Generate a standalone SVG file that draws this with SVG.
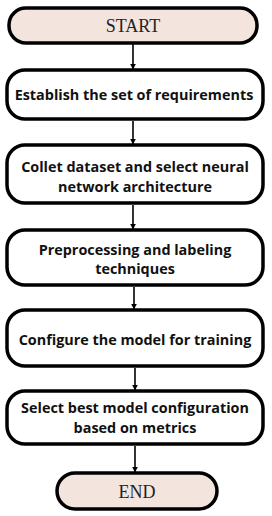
<svg xmlns="http://www.w3.org/2000/svg" width="272" height="516" viewBox="0 0 272 516">
<defs>
<style>
.term{fill:#f3e5dd;stroke:#000;stroke-width:3.5}
.box{fill:#fff;stroke:#000;stroke-width:3.5}
.tt{font-family:"Liberation Serif","DejaVu Serif",serif;font-size:18px;fill:#222;text-anchor:middle}
.bt{font-family:"Open Sans","DejaVu Sans",sans-serif;font-weight:bold;font-size:14.4px;fill:#111;text-anchor:middle}
.con{stroke:#000;stroke-width:1.6;fill:none;marker-end:url(#ah)}
</style>
<marker id="ah" viewBox="0 0 10 10" refX="9" refY="5" markerWidth="6" markerHeight="6" orient="auto" markerUnits="userSpaceOnUse">
<path d="M0,0 L10,5 L0,10 z" fill="#000"/>
</marker>
</defs>
<rect width="272" height="516" fill="#fff"/>
<g id="connectors">
<line class="con" x1="133" y1="44" x2="133" y2="69"/>
<line class="con" x1="133" y1="121" x2="133" y2="144"/>
<line class="con" x1="133" y1="205" x2="133" y2="229"/>
<line class="con" x1="134" y1="287" x2="134" y2="309"/>
<line class="con" x1="135" y1="368" x2="135" y2="390"/>
<line class="con" x1="135" y1="446" x2="135" y2="472"/>
</g>
<g id="start">
<rect class="term" x="9" y="8" width="248" height="35" rx="17"/>
<text class="tt" x="133" y="32">START</text>
</g>
<g id="n1">
<rect class="box" x="7" y="70" width="256" height="49" rx="18"/>
<text class="bt" x="134" y="100">Establish the set of requirements</text>
</g>
<g id="n2">
<rect class="box" x="7" y="145" width="256" height="58" rx="18"/>
<text class="bt" x="135" y="172">Collet dataset and select neural</text>
<text class="bt" x="135" y="192">network architecture</text>
</g>
<g id="n3">
<rect class="box" x="7" y="230" width="256" height="55" rx="18"/>
<text class="bt" x="135" y="255">Preprocessing and labeling</text>
<text class="bt" x="135" y="274">techniques</text>
</g>
<g id="n4">
<rect class="box" x="7" y="310" width="256" height="56" rx="18"/>
<text class="bt" x="135" y="345">Configure the model for training</text>
</g>
<g id="n5">
<rect class="box" x="7" y="391" width="256" height="53" rx="18"/>
<text class="bt" x="135" y="413">Select best model configuration</text>
<text class="bt" x="135" y="433">based on metrics</text>
</g>
<g id="end">
<rect class="term" x="57" y="473" width="160" height="36" rx="18"/>
<text class="tt" x="137" y="498">END</text>
</g>
</svg>
